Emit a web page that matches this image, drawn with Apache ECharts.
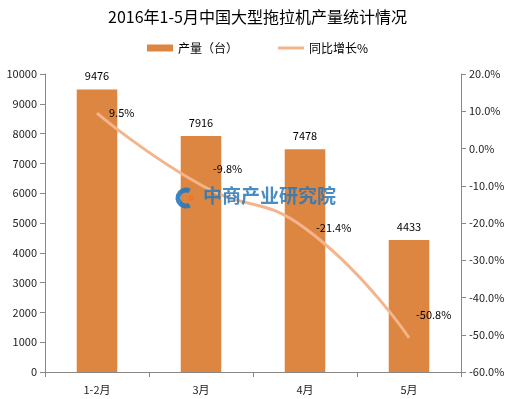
<!DOCTYPE html>
<html>
<head>
<meta charset="utf-8">
<script src="https://cdn.jsdelivr.net/npm/echarts@6/dist/echarts.min.js"></script>
<style>
html, body { margin: 0; padding: 0; background: #fff; }
#chart-container { width: 515px; height: 399px; }
</style>
</head>
<body>
<div id="chart-container"></div>
<script>
const months = ['1-2月', '3月', '4月', '5月']
const output = [9476, 7916, 7478, 4433]
const growth = [9.5, -9.8, -21.4, -50.8]

const labelOffsets = [[6, 0], [6, -16], [5, 0], [1, -23]]

const myChart = echarts.init(document.getElementById('chart-container'))
const font = '"Microsoft YaHei", "Noto Sans CJK SC", sans-serif'
const option = {
    textStyle: { fontFamily: font },
    title: {
        text: '2016年1-5月中国大型拖拉机产量统计情况',
        left: 'center',
        top: 4,
        textStyle: { fontSize: 16, fontWeight: 'normal', color: '#000', fontFamily: font }
    },
    legend: {
        top: 37,
        left: 'center',
        itemGap: 40,
        itemWidth: 26,
        itemHeight: 7,
        textStyle: { fontSize: 12, color: '#000' },
        data: [
            { name: '产量（台）', icon: 'rect' },
            { name: '同比增长%', icon: 'path://M0,0 L26,0 L26,3 L0,3 Z', itemStyle: { color: '#F4B48C', opacity: 1 } }
        ]
    },
    graphic: [
        {
            type: 'arc',
            shape: { cx: 186, cy: 198, r: 8, startAngle: Math.PI * 0.35, endAngle: Math.PI * 1.65 },
            style: { stroke: 'rgba(40,120,185,0.9)', lineWidth: 5, fill: null },
            z: 100
        },
        {
            type: 'circle',
            shape: { cx: 191, cy: 198, r: 3 },
            style: { fill: 'rgba(235,120,40,0.9)' },
            z: 100
        },
        {
            type: 'text',
            left: 203,
            top: 186,
            style: {
                text: '中商产业研究院',
                fontSize: 19,
                fontWeight: 'bold',
                fill: 'rgba(40,120,185,0.85)',
                fontFamily: font
            },
            z: 100
        }
    ],
    grid: { left: 45, right: 54, top: 74, bottom: 27 },
    xAxis: {
        type: 'category',
        data: months,
        axisLine: { lineStyle: { color: '#888' } },
        axisTick: { show: true, alignWithLabel: false, lineStyle: { color: '#888' } },
        axisLabel: { color: '#222', fontSize: 11, margin: 12 }
    },
    yAxis: [
        {
            type: 'value',
            min: 0,
            max: 10000,
            interval: 1000,
            splitLine: { show: false },
            axisLine: { show: true, lineStyle: { color: '#888' } },
            axisTick: { show: true, lineStyle: { color: '#888' } },
            axisLabel: { color: '#222', fontSize: 11, formatter: v => String(v) }
        },
        {
            type: 'value',
            min: -60,
            max: 20,
            interval: 10,
            splitLine: { show: false },
            axisLine: { show: true, lineStyle: { color: '#888' } },
            axisTick: { show: true, lineStyle: { color: '#888' } },
            axisLabel: { color: '#222', fontSize: 11, formatter: v => v.toFixed(1) + '%' }
        }
    ],
    series: [
        {
            name: '产量（台）',
            type: 'bar',
            barWidth: '39%',
            data: output,
            itemStyle: { color: '#DD8642' },
            label: { show: true, position: 'top', color: '#000', fontSize: 11, distance: 8 }
        },
        {
            name: '同比增长%',
            type: 'line',
            yAxisIndex: 1,
            smooth: true,
            symbol: 'circle',
            symbolSize: 2,
            showSymbol: true,
            lineStyle: { color: '#F4B48C', width: 3 },
            itemStyle: { color: 'transparent', borderWidth: 0 },
            data: growth.map((v, i) => ({
                value: v,
                label: { offset: labelOffsets[i] }
            })),
            label: {
                show: true,
                position: 'right',
                color: '#000',
                fontSize: 11,
                formatter: p => p.value.toFixed(1) + '%'
            }
        }
    ]
}
option && myChart.setOption(option)
</script>
</body>
</html>
